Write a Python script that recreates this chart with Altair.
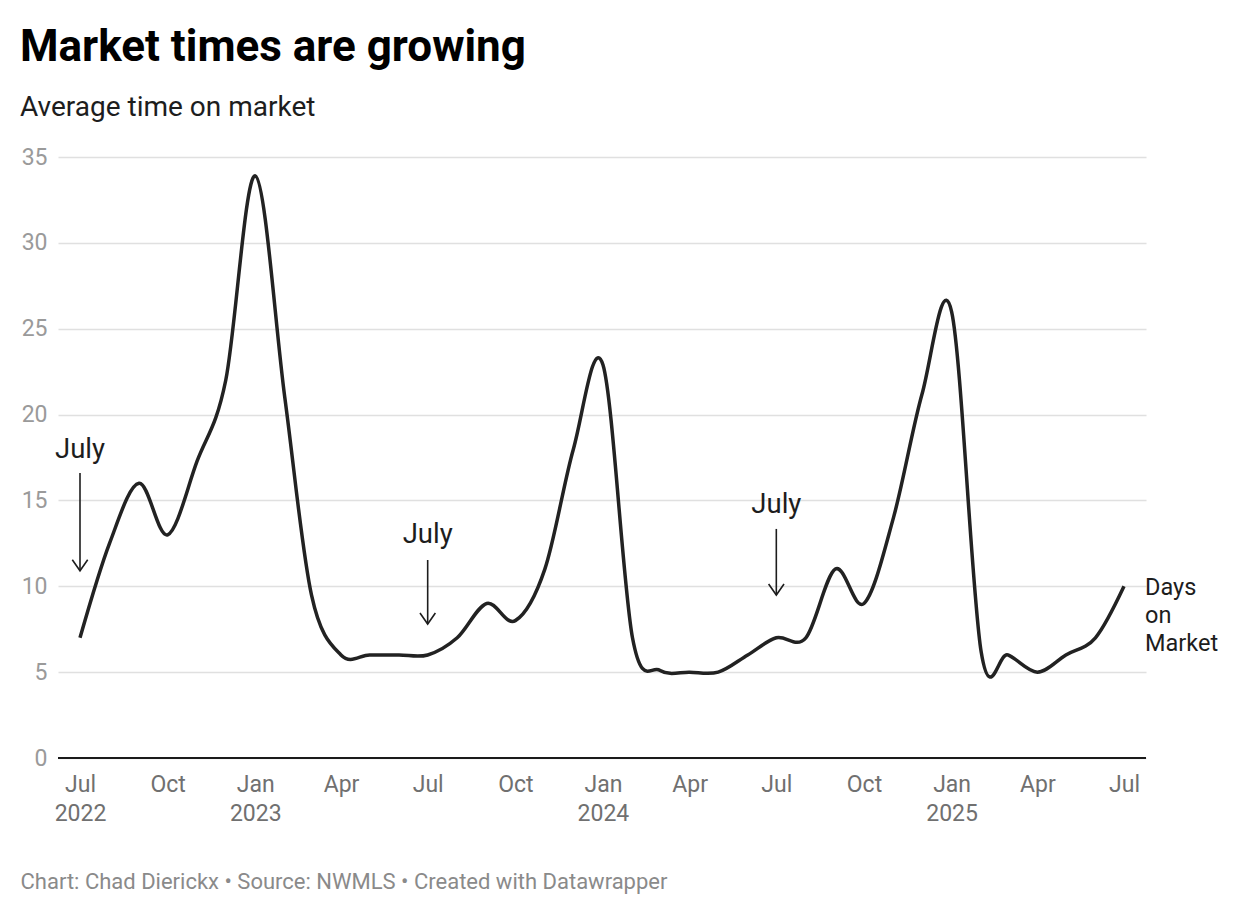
import altair as alt
import pandas as pd

# ---- data -------------------------------------------------------------
months = [d.strftime("%Y-%m-%d") for d in pd.date_range("2022-07-01", "2025-07-01", freq="MS")]
days_on_market = [7.0, 12.5, 16.0, 13.0, 17.3, 22.0,
                  33.9, 21.0, 9.5, 6.0, 6.0, 6.0,
                  6.0, 7.0, 9.0, 8.0, 11.0, 18.0,
                  22.9, 7.0, 5.1, 5.0, 5.0, 6.0,
                  7.0, 7.0, 11.0, 9.0, 14.0, 21.2,
                  26.0, 6.2, 6.0, 5.0, 6.0, 7.0,
                  10.0]
series_name = "Days\non\nMarket"

x_tick_dates = ["2022-07-01", "2022-10-01", "2023-01-01", "2023-04-01",
                "2023-07-01", "2023-10-01", "2024-01-01", "2024-04-01",
                "2024-07-01", "2024-10-01", "2025-01-01", "2025-04-01",
                "2025-07-01"]
y_ticks = [0, 5, 10, 15, 20, 25, 30, 35]

ann_dates = ["2022-07-01", "2023-07-01", "2024-07-01"]
ann_labels = ["July", "July", "July"]
ann_text_y = [17.47, 12.5, 14.27]
ann_arrow_top = [16.6, 11.53, 13.34]
ann_arrow_tip = [10.9, 7.8, 9.49]

title_text = "Market times are growing"
subtitle_text = "Average time on market"
footer_text = "Chart: Chad Dierickx \u2022 Source: NWMLS \u2022 Created with Datawrapper"

# ---- tables -----------------------------------------------------------
df = pd.DataFrame({"month": months, "days": days_on_market})
last = pd.DataFrame({"month": [months[-1]], "days": [days_on_market[-1]], "label": [series_name]})
ann = pd.DataFrame({"date": ann_dates, "label": ann_labels, "ty": ann_text_y,
                    "top": ann_arrow_top, "tip": ann_arrow_tip})

FONT = "Roboto"
x_values = [alt.DateTime(year=int(d[:4]), month=int(d[5:7]), date=1, utc=True) for d in x_tick_dates]

x_scale = alt.Scale(type="utc", padding=22, nice=False)
y_scale = alt.Scale(domain=[0, 35], nice=False)

label_expr = ("(utcmonth(datum.value) == 0 || (utcyear(datum.value) == 2022 && utcmonth(datum.value) == 6))"
              " ? [utcFormat(datum.value, '%b'), utcFormat(datum.value, '%Y')]"
              " : utcFormat(datum.value, '%b')")

x_axis = alt.Axis(values=x_values, labelExpr=label_expr, domain=False, ticks=False, grid=False,
                  labelFont=FONT, labelFontSize=23, labelColor="#707070", labelPadding=15,
                  labelLineHeight=29, labelOverlap=False, labelFlush=False, labelBound=False,
                  title=footer_text, titleFont=FONT, titleFontSize=22, titleFontWeight="normal",
                  titleColor="#8a8a8a", titleAnchor="start", titleAlign="left",
                  titleBaseline="alphabetic", titleX=-38, titleY=130)

y_axis = alt.Axis(values=y_ticks, title=None, domain=False, ticks=False, grid=True,
                  labelFont=FONT, labelFontSize=23, labelColor="#9a9a9a", labelPadding=11,
                  gridColor="#e0e0e0", gridWidth=1.5, gridOpacity=1)

line = alt.Chart(df).mark_line(interpolate="cardinal", color="#222222", strokeWidth=3.5).encode(
    x=alt.X("month:T", scale=x_scale, axis=x_axis),
    y=alt.Y("days:Q", scale=y_scale, axis=y_axis),
)

baseline = alt.Chart(df).mark_rule(color="#1a1a1a", strokeWidth=2).encode(y=alt.datum(0))

ann_text = alt.Chart(ann).mark_text(font=FONT, fontSize=27.5, color="#1d1d1d",
                                    align="center", baseline="alphabetic").encode(
    x="date:T", y="ty:Q", text="label:N")

ann_rule = alt.Chart(ann).mark_rule(color="#1d1d1d", strokeWidth=1.6).encode(
    x="date:T", y="top:Q", y2="tip:Q")

ann_head = alt.Chart(ann).mark_point(shape="M -0.7 -1 L 0 0 L 0.7 -1", filled=False,
                                     size=484, color="#1d1d1d", strokeWidth=1.6, opacity=1).encode(
    x="date:T", y="tip:Q")

series_label = alt.Chart(last).mark_text(font=FONT, fontSize=23.5, color="#1d1d1d", align="left",
                                         baseline="alphabetic", dx=21, dy=8.5, lineHeight=28,
                                         lineBreak="\n").encode(
    x="month:T", y="days:Q", text="label:N")

chart = alt.layer(line, baseline, ann_rule, ann_head, ann_text, series_label).properties(
    width=1088, height=601,
    padding={"left": 50, "top": 149, "right": 86, "bottom": 140},
    autosize=alt.AutoSizeParams(type="none"),
    title=alt.Title(text=title_text, subtitle=subtitle_text, anchor="start", frame="group",
                    dx=-38, offset=24, font=FONT, fontSize=44, fontWeight="bold", color="#000000",
                    subtitleFont=FONT, subtitleFontSize=28, subtitleColor="#1d1d1d",
                    subtitlePadding=24),
).configure_view(stroke=None)

chart.save("out.html", embed_options={"renderer": "svg", "actions": False})
